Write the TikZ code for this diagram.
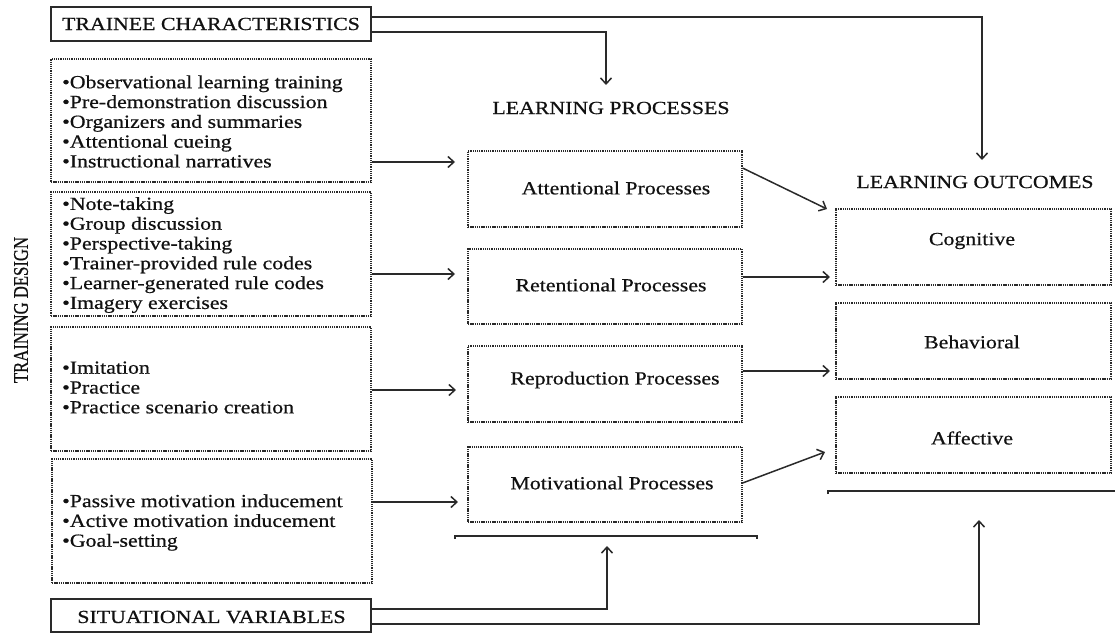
\documentclass[tikz,border=0pt]{standalone}
\usepackage{fontspec}
\setmainfont{Liberation Serif}[FakeStretch=1.18,FakeBold=0.6]
\newfontfamily\plainserif{Liberation Serif}[FakeBold=0.6]
\usetikzlibrary{arrows.meta}
\definecolor{ink}{HTML}{111111}
\definecolor{edge}{HTML}{2A2A2A}
\tikzset{
  solidbox/.style={draw=edge, line width=1.5pt, minimum width=320pt, minimum height=34pt, inner sep=0pt, text=ink},
  dotbox/.style={draw=edge, line width=1.1pt, dash pattern=on 1.3pt off 0.9pt, inner sep=0pt},
  listbox/.style={dotbox, minimum width=320pt, minimum height=124pt},
  procbox/.style={dotbox, minimum width=274pt, minimum height=76pt},
  outbox/.style={dotbox, minimum width=275pt, minimum height=76pt},
  txt/.style={text=ink, inner sep=0pt, font=\fontsize{18.5}{19.8}\selectfont},
  listtxt/.style={txt, align=left, anchor=west},
  conn/.style={draw=edge, line width=1.5pt},
  arr/.style={conn, -{Straight Barb[length=6pt,width=11pt,line width=1.5pt]}},
}
\begin{document}
\begin{tikzpicture}[x=1pt,y=-1pt]
\path[use as bounding box] (0,0) rectangle (1115,632);

% left column
\node[solidbox] (tc) at (211,24) {};
\node[txt] (tct) at (211,24) {TRAINEE CHARACTERISTICS};

\node[listbox, minimum height=123pt] (b1) at (211,120.5) {};
\node[listtxt] (b1t) at (62,121.5) {•Observational learning training\\•Pre-demonstration discussion\\•Organizers and summaries\\•Attentional cueing\\•Instructional narratives};

\node[listbox] (b2) at (211,254) {};
\node[listtxt] (b2t) at (62,255) {•Note-taking\\•Group discussion\\•Perspective-taking\\•Trainer-provided rule codes\\•Learner-generated rule codes\\•Imagery exercises};

\node[listbox] (b3) at (211,389) {};
\node[listtxt] (b3t) at (62,387.5) {•Imitation\\•Practice\\•Practice scenario creation};

\node[listbox] (b4) at (212,521) {};
\node[listtxt] (b4t) at (62,522.5) {•Passive motivation inducement\\•Active motivation inducement\\•Goal-setting};

\node[solidbox, minimum height=33pt] (sv) at (211,615.5) {};
\node[txt] (svt) at (211.5,617) {SITUATIONAL VARIABLES};

\node[text=ink, inner sep=0pt, rotate=90] (td) at (21,310) {\scalebox{1}[1.25]{\plainserif\fontsize{16.7}{18}\selectfont TRAINING DESIGN}};

% processes
\node[txt] (lp) at (611,108) {LEARNING PROCESSES};
\node[procbox] (p1) at (605,189) {};
\node[txt] (p1t) at (616,188) {Attentional Processes};
\node[procbox, minimum height=75pt] (p2) at (605,286.5) {};
\node[txt] (p2t) at (611,285) {Retentional Processes};
\node[procbox] (p3) at (605,384) {};
\node[txt] (p3t) at (615,380) {Reproduction Processes};
\node[procbox, minimum height=75pt] (p4) at (605,484.5) {};
\node[txt] (p4t) at (612,483) {Motivational Processes};

% outcomes
\node[txt] (lo) at (975,182) {LEARNING OUTCOMES};
\node[outbox] (o1) at (973.5,247) {};
\node[txt] (o1t) at (972,241) {Cognitive};
\node[outbox] (o2) at (973.5,341) {};
\node[txt] (o2t) at (972,342) {Behavioral};
\node[outbox] (o3) at (973.5,435) {};
\node[txt] (o3t) at (972,438) {Affective};

% brackets
\coordinate (pbl) at (455,536);
\coordinate (pbr) at (757,536);
\draw[conn, line width=1.2pt] ([yshift=-3pt]pbl) -- (pbl) -- (pbr) -- ([yshift=-3pt]pbr);
\coordinate (obl) at (828,491);
\coordinate (obr) at (1115,491);
\draw[conn, line width=1.2pt] ([yshift=-3pt]obl) -- (obl) -- (obr);

% coordinates for connector ends
\coordinate (lpin) at (606,85);
\coordinate (loin) at (982,160);
\coordinate (a1) at (455,162);
\coordinate (a2) at (455,274);
\coordinate (a3) at (456,390);
\coordinate (a4) at (458,502);
\coordinate (c1in) at (827,209);
\coordinate (c2in) at (830,277);
\coordinate (c3in) at (830,371);
\coordinate (c4in) at (825,452);
\coordinate (pup) at (607,546);
\coordinate (oup) at (979,520);

% trainee characteristics connectors
\draw[arr] (tc.east |- 0,17) -- (loin |- 0,17) -- (loin);
\draw[arr] (tc.east |- 0,32) -- (lpin |- 0,32) -- (lpin);

% training design -> processes
\draw[arr] (b1.east |- a1) -- (a1);
\draw[arr] (b2.east |- a2) -- (a2);
\draw[arr] (b3.east |- a3) -- (a3);
\draw[arr] (b4.east |- a4) -- (a4);

% processes -> outcomes
\draw[arr] (p1.east |- 0,168) -- (c1in);
\draw[arr] (p2.east |- c2in) -- (c2in);
\draw[arr] (p3.east |- c3in) -- (c3in);
\draw[arr] (p4.east |- 0,483) -- (c4in);

% situational variables connectors
\draw[arr] (sv.east |- 0,609) -- (pup |- 0,609) -- (pup);
\draw[arr] (sv.east |- 0,624) -- (oup |- 0,624) -- (oup);
\end{tikzpicture}
\end{document}
